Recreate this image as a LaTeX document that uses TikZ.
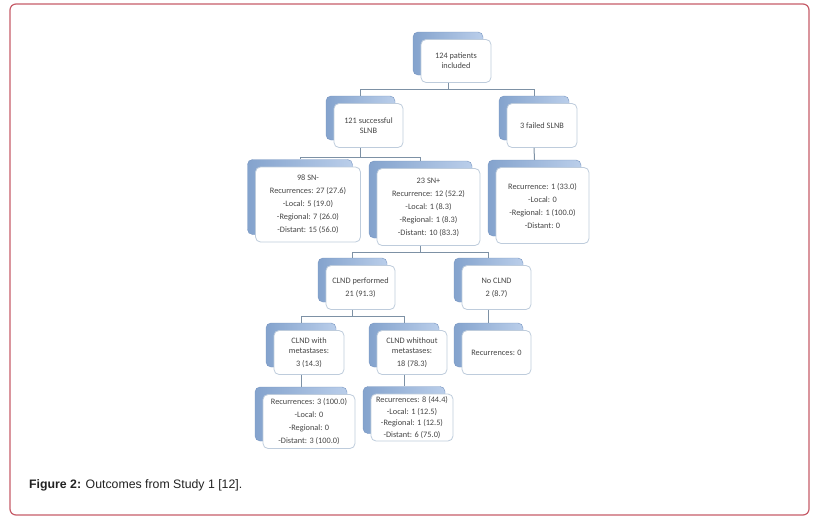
\documentclass[tikz,border=0pt]{standalone}
\usepackage{fontspec}
\setmainfont{Carlito}
\newfontfamily\captionfont{Liberation Sans}

\definecolor{backDark}{RGB}{132,163,205}
\definecolor{backLight}{RGB}{186,206,234}
\definecolor{backLine}{RGB}{118,148,192}
\definecolor{frontLine}{RGB}{190,204,220}
\definecolor{edgeGray}{RGB}{125,145,165}
\definecolor{textGray}{RGB}{70,70,70}
\definecolor{frameRed}{RGB}{198,92,104}

\begin{document}
\begin{tikzpicture}[x=1pt,y=-1pt]
  \tikzstyle{boxBack} = [rectangle, rounded corners=5pt, draw=backLine, left color=backDark, right color=backLight, inner sep=0pt]
  \tikzstyle{boxFront} = [rectangle, rounded corners=5pt, draw=frontLine, line width=0.8pt, fill=white, inner sep=0pt, xshift=8pt, yshift=-7.5pt, align=center, text=textGray, font={\fontsize{8.3}{10}\selectfont}]
  \tikzstyle{treeEdge} = [edgeGray, line width=1pt];

  \useasboundingbox (0,0) rectangle (813,522);
  \draw[frameRed, line width=1.2pt, rounded corners=6pt] (10,4) rectangle (809,515);

  \node[boxBack, minimum width=70pt, minimum height=43pt] (patients) at (448,53.5) {};
  \node[boxFront, minimum width=70pt, minimum height=43pt] (patientsF) at (patients) {124 patients\\included};

  \node[boxBack, minimum width=69pt, minimum height=44pt] (successful) at (360.5,118) {};
  \node[boxFront, minimum width=69pt, minimum height=44pt] (successfulF) at (successful) {121 successful\\SLNB};
  \node[boxBack, minimum width=70pt, minimum height=44pt] (failed) at (534,118) {};
  \node[boxFront, minimum width=70pt, minimum height=44pt] (failedF) at (failed) {3 failed SLNB};

  \node[boxBack, minimum width=105pt, minimum height=75pt] (negative) at (300,197) {};
  \node[boxFront, minimum width=105pt, minimum height=75pt] (negativeF) at (negative) {98 SN-\\[3pt]Recurrences: 27 (27.6)\\[3pt]-Local: 5 (19.0)\\[3pt]-Regional: 7 (26.0)\\[3pt]-Distant: 15 (56.0)};
  \node[boxBack, minimum width=103pt, minimum height=77pt] (positive) at (420.5,199.5) {};
  \node[boxFront, minimum width=103pt, minimum height=77pt] (positiveF) at (positive) {23 SN+\\[3pt]Recurrence: 12 (52.2)\\[3pt]-Local: 1 (8.3)\\[3pt]-Regional: 1 (8.3)\\[3pt]-Distant: 10 (83.3)};
  \node[boxBack, minimum width=93pt, minimum height=76pt] (failedRec) at (534.5,198) {};
  \node[boxFront, minimum width=93pt, minimum height=76pt] (failedRecF) at (failedRec) {Recurrence: 1 (33.0)\\[3pt]-Local: 0\\[3pt]-Regional: 1 (100.0)\\[3pt]-Distant: 0};

  \node[boxBack, minimum width=69pt, minimum height=44pt] (clnd) at (352.5,280) {};
  \node[boxFront, minimum width=69pt, minimum height=44pt] (clndF) at (clnd) {CLND performed\\[3pt]21 (91.3)};
  \node[boxBack, minimum width=69pt, minimum height=44pt] (noClnd) at (488.5,280) {};
  \node[boxFront, minimum width=69pt, minimum height=44pt] (noClndF) at (noClnd) {No CLND\\[3pt]2 (8.7)};

  \node[boxBack, minimum width=70pt, minimum height=44pt] (withMet) at (301,345) {};
  \node[boxFront, minimum width=70pt, minimum height=44pt] (withMetF) at (withMet) {CLND with\\metastases:\\[3pt]3 (14.3)};
  \node[boxBack, minimum width=70pt, minimum height=44pt] (withoutMet) at (404,345) {};
  \node[boxFront, minimum width=70pt, minimum height=44pt] (withoutMetF) at (withoutMet) {CLND whithout\\metastases:\\[3pt]18 (78.3)};
  \node[boxBack, minimum width=69pt, minimum height=44pt] (noRec) at (488.5,345) {};
  \node[boxFront, minimum width=69pt, minimum height=44pt] (noRecF) at (noRec) {Recurrences: 0};

  \node[boxBack, minimum width=92pt, minimum height=54pt] (withMetRec) at (301,414) {};
  \node[boxFront, minimum width=92pt, minimum height=54pt] (withMetRecF) at (withMetRec) {Recurrences: 3 (100.0)\\[3pt]-Local: 0\\[3pt]-Regional: 0\\[3pt]-Distant: 3 (100.0)};
  \node[boxBack, minimum width=82pt, minimum height=47pt] (withoutMetRec) at (404,410) {};
  \node[boxFront, minimum width=82pt, minimum height=47pt] (withoutMetRecF) at (withoutMetRec) {Recurrences: 8 (44.4)\\[1.7pt]-Local: 1 (12.5)\\[1.7pt]-Regional: 1 (12.5)\\[1.7pt]-Distant: 6 (75.0)};

  \draw[treeEdge] (patients |- patientsF.south) -- ++(0,7) -| (successful.north);
  \draw[treeEdge] (patients |- patientsF.south) -- ++(0,7) -| (failed.north);
  \draw[treeEdge] (successful |- successfulF.south) -- ++(0,10) -| (negative.north);
  \draw[treeEdge] (successful |- successfulF.south) -- ++(0,10) -| (positive.north);
  \draw[treeEdge] (failed |- failedF.south) -- (failedRec.north);
  \draw[treeEdge] (positive |- positiveF.south) -- ++(0,6.5) -| (clnd.north);
  \draw[treeEdge] (positive |- positiveF.south) -- ++(0,6.5) -| (noClnd.north);
  \draw[treeEdge] (clnd |- clndF.south) -- ++(0,6.5) -| (withMet.north);
  \draw[treeEdge] (clnd |- clndF.south) -- ++(0,6.5) -| (withoutMet.north);
  \draw[treeEdge] (noClnd |- noClndF.south) -- (noRec.north);
  \draw[treeEdge] (withMet |- withMetF.south) -- (withMetRec.north);
  \draw[treeEdge] (withoutMet |- withoutMetF.south) -- (withoutMetRec.north);

  \node[anchor=base west, inner sep=0pt, text={rgb,255:red,34;green,34;blue,34}, font={\captionfont\fontsize{12.3}{14}\selectfont}] (caption) at (29,488) {\textbf{Figure 2:} Outcomes from Study 1 [12].};
\end{tikzpicture}
\end{document}
